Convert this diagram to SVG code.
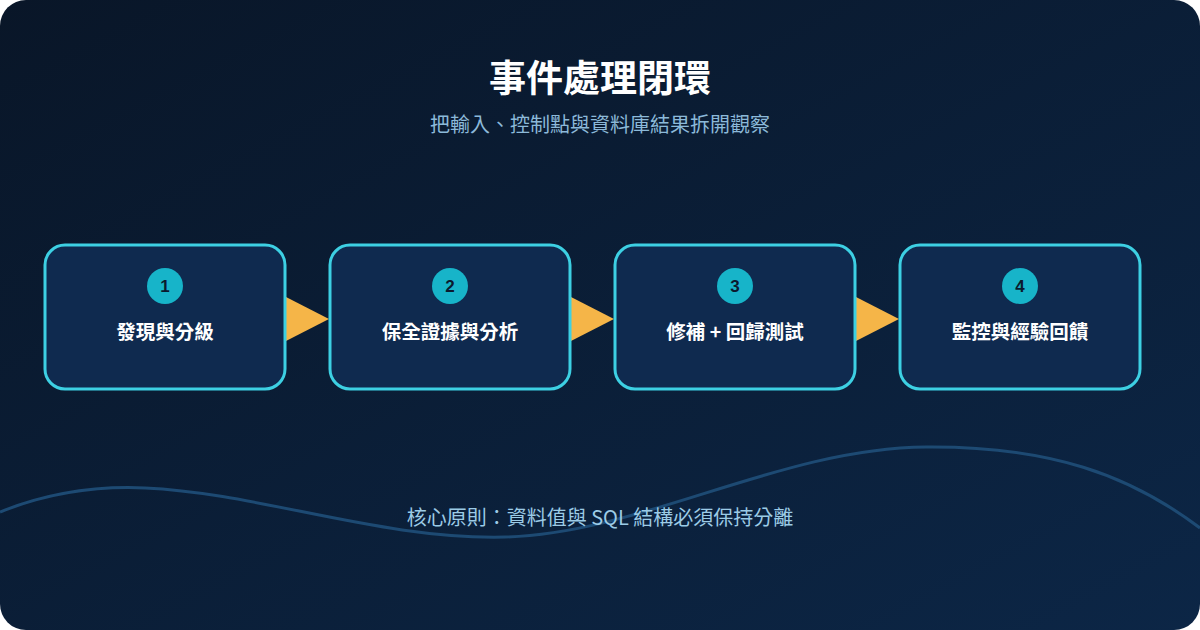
<svg xmlns="http://www.w3.org/2000/svg" width="1200" height="630" viewBox="0 0 1200 630">
<defs>
<linearGradient id="bg" x1="0" y1="0" x2="1" y2="1">
<stop offset="0" stop-color="#091628"/>
<stop offset="1" stop-color="#0c2646"/>
</linearGradient>
<style>
.box{fill:#0f2a4f;stroke:#3dd0e3;stroke-width:3}
.badge{fill:#17b4c9}
.num{font-family:"Liberation Sans",Arial,sans-serif;font-weight:bold;font-size:17px;fill:#0b1a2e;text-anchor:middle}
.lbl{font-family:"Noto Sans CJK TC","Noto Sans CJK SC",sans-serif;font-weight:bold;font-size:19.5px;fill:#ffffff;text-anchor:middle}
.arrow{fill:#f5b548}
</style>
</defs>
<rect x="0" y="0" width="1200" height="630" fill="#ffffff"/>
<rect x="0" y="0" width="1200" height="630" rx="26" fill="url(#bg)"/>
<path d="M0 512 C 50 492, 100 486, 145 488 C 260 493, 380 540, 505 537 C 640 534, 780 448, 926 447 C 1050 446, 1130 475, 1200 528" fill="none" stroke="#1d4a73" stroke-width="3"/>
<text x="600" y="92" font-family="'Noto Sans CJK TC','Noto Sans CJK SC',sans-serif" font-weight="bold" font-size="37" fill="#ffffff" text-anchor="middle">事件處理閉環</text>
<text x="600" y="132" font-family="'Noto Sans CJK TC','Noto Sans CJK SC',sans-serif" font-size="20" fill="#8cb9d9" text-anchor="middle">把輸入、控制點與資料庫結果拆開觀察</text>
<g id="connectors">
<polygon class="arrow" points="286,297 329,319 286,341"/>
<polygon class="arrow" points="571,297 614,319 571,341"/>
<polygon class="arrow" points="856,297 899,319 856,341"/>
</g>
<g id="node1">
<rect class="box" x="45" y="245" width="240" height="144" rx="20"/>
<circle class="badge" cx="165" cy="286" r="18"/>
<text class="num" x="165" y="292">1</text>
<text class="lbl" x="165" y="339">發現與分級</text>
</g>
<g id="node2">
<rect class="box" x="330" y="245" width="240" height="144" rx="20"/>
<circle class="badge" cx="450" cy="286" r="18"/>
<text class="num" x="450" y="292">2</text>
<text class="lbl" x="450" y="339">保全證據與分析</text>
</g>
<g id="node3">
<rect class="box" x="615" y="245" width="240" height="144" rx="20"/>
<circle class="badge" cx="735" cy="286" r="18"/>
<text class="num" x="735" y="292">3</text>
<text class="lbl" x="735" y="339">修補 + 回歸測試</text>
</g>
<g id="node4">
<rect class="box" x="900" y="245" width="240" height="144" rx="20"/>
<circle class="badge" cx="1020" cy="286" r="18"/>
<text class="num" x="1020" y="292">4</text>
<text class="lbl" x="1020" y="339">監控與經驗回饋</text>
</g>
<text x="600" y="525" font-family="'Noto Sans CJK TC','Noto Sans CJK SC',sans-serif" font-size="20" fill="#9ccbe6" text-anchor="middle">核心原則：資料值與 SQL 結構必須保持分離</text>
</svg>
